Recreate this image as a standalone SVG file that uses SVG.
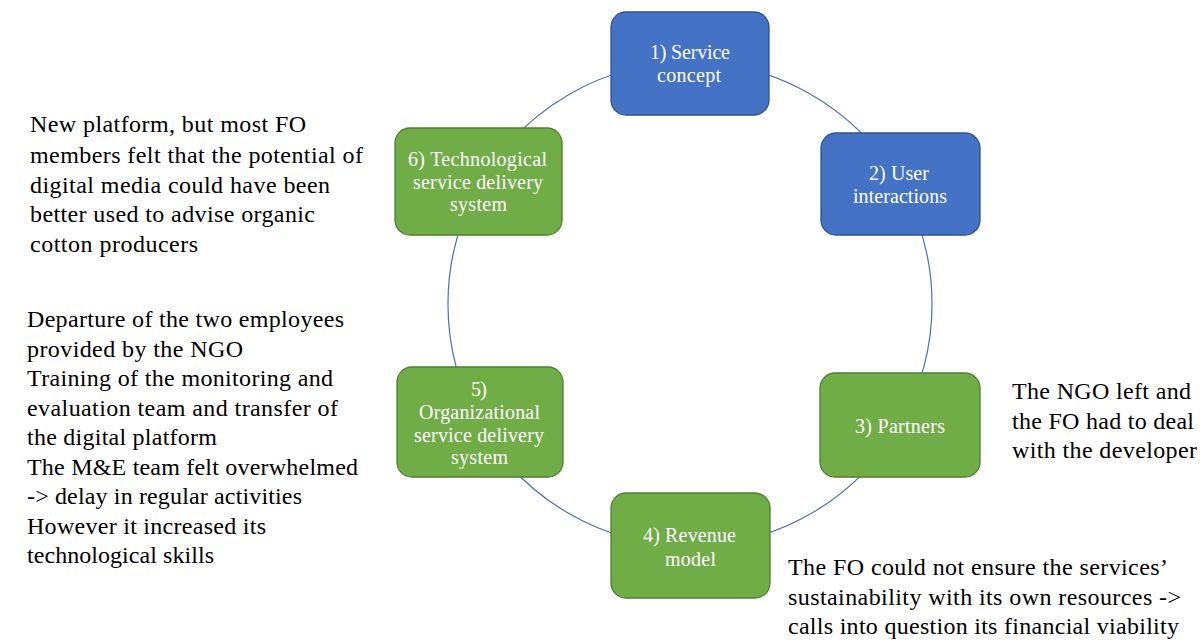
<svg xmlns="http://www.w3.org/2000/svg" width="1203" height="642" viewBox="0 0 1203 642" font-family="Liberation Serif, DejaVu Serif, serif">
<style>
.conn{fill:none;stroke:#4472C4;stroke-width:1.2}
.blue{fill:#4472C4;stroke:#2F528F;stroke-width:1.3}
.green{fill:#70AD47;stroke:#507E32;stroke-width:1.3}
.nt{font-size:20px;fill:#ffffff;text-anchor:middle}
.st{font-size:24px;fill:#000000}
</style>
<rect width="1203" height="642" fill="#ffffff"/>
<g id="connectors">
<path class="conn" d="M690 62 A242 242 0 0 1 899.6 183"/>
<path class="conn" d="M899.6 183 A242 242 0 0 1 899.6 425"/>
<path class="conn" d="M899.6 425 A242 242 0 0 1 690 546"/>
<path class="conn" d="M690 546 A242 242 0 0 1 480.4 425"/>
<path class="conn" d="M480.4 425 A242 242 0 0 1 480.4 183"/>
<path class="conn" d="M480.4 183 A242 242 0 0 1 690 62"/>
</g>
<g id="node1" font-family="Liberation Serif">
<rect class="blue" x="611" y="12" width="158" height="103" rx="15"/>
<text class="nt" x="690" y="59" textLength="80" lengthAdjust="spacing">1) Service</text>
<text class="nt" x="689" y="82" textLength="64" lengthAdjust="spacing">concept</text>
</g>
<g id="node2" font-family="Liberation Serif">
<rect class="blue" x="821" y="133" width="159" height="102" rx="15"/>
<text class="nt" x="899" y="180" textLength="60" lengthAdjust="spacing">2) User</text>
<text class="nt" x="900" y="203" textLength="94" lengthAdjust="spacing">interactions</text>
</g>
<g id="node3" font-family="Liberation Serif">
<rect class="green" x="820" y="373" width="160" height="104" rx="15"/>
<text class="nt" x="900" y="433" textLength="90" lengthAdjust="spacing">3) Partners</text>
</g>
<g id="node4" font-family="Liberation Serif">
<rect class="green" x="611" y="493" width="159" height="105" rx="15"/>
<text class="nt" x="689.5" y="542" textLength="93" lengthAdjust="spacing">4) Revenue</text>
<text class="nt" x="690.5" y="566" textLength="51" lengthAdjust="spacing">model</text>
</g>
<g id="node5" font-family="Liberation Serif">
<rect class="green" x="397" y="367" width="166" height="110" rx="15"/>
<text class="nt" x="479" y="396" textLength="16" lengthAdjust="spacing">5)</text>
<text class="nt" x="479.5" y="419" textLength="121" lengthAdjust="spacing">Organizational</text>
<text class="nt" x="479" y="441.5" textLength="130" lengthAdjust="spacing">service delivery</text>
<text class="nt" x="479.5" y="464" textLength="57" lengthAdjust="spacing">system</text>
</g>
<g id="node6" font-family="Liberation Serif">
<rect class="green" x="395" y="128" width="167" height="107" rx="15"/>
<text class="nt" x="477.5" y="166" textLength="139" lengthAdjust="spacing">6) Technological</text>
<text class="nt" x="478" y="188.5" textLength="130" lengthAdjust="spacing">service delivery</text>
<text class="nt" x="478.5" y="211" textLength="57" lengthAdjust="spacing">system</text>
</g>
<g id="note-tech" font-family="Liberation Serif">
<text class="st" x="30" y="132" textLength="276" lengthAdjust="spacing">New platform, but most FO</text>
<text class="st" x="30" y="162.5" textLength="333" lengthAdjust="spacing">members felt that the potential of</text>
<text class="st" x="30" y="192.5" textLength="300" lengthAdjust="spacing">digital media could have been</text>
<text class="st" x="30" y="221.5" textLength="285" lengthAdjust="spacing">better used to advise organic</text>
<text class="st" x="30" y="251.5" textLength="168" lengthAdjust="spacing">cotton producers</text>
</g>
<g id="note-org" font-family="Liberation Serif">
<text class="st" x="27" y="327" textLength="317" lengthAdjust="spacing">Departure of the two employees</text>
<text class="st" x="27" y="356.5" textLength="216" lengthAdjust="spacing">provided by the NGO</text>
<text class="st" x="27" y="386" textLength="306" lengthAdjust="spacing">Training of the monitoring and</text>
<text class="st" x="27" y="415.5" textLength="311" lengthAdjust="spacing">evaluation team and transfer of</text>
<text class="st" x="27" y="445" textLength="190" lengthAdjust="spacing">the digital platform</text>
<text class="st" x="27" y="474.5" textLength="331" lengthAdjust="spacing">The M&amp;E team felt overwhelmed</text>
<text class="st" x="27" y="504" textLength="275" lengthAdjust="spacing">-&gt; delay in regular activities</text>
<text class="st" x="27" y="533.5" textLength="239" lengthAdjust="spacing">However it increased its</text>
<text class="st" x="27" y="563" textLength="187" lengthAdjust="spacing">technological skills</text>
</g>
<g id="note-partners" font-family="Liberation Serif">
<text class="st" x="1012" y="399" textLength="179" lengthAdjust="spacing">The NGO left and</text>
<text class="st" x="1012" y="429" textLength="182" lengthAdjust="spacing">the FO had to deal</text>
<text class="st" x="1012" y="458" textLength="185" lengthAdjust="spacing">with the developer</text>
</g>
<g id="note-revenue" font-family="Liberation Serif">
<text class="st" x="788" y="575" textLength="380" lengthAdjust="spacing">The FO could not ensure the services’</text>
<text class="st" x="788" y="604.5" textLength="393" lengthAdjust="spacing">sustainability with its own resources -&gt;</text>
<text class="st" x="788" y="634" textLength="391" lengthAdjust="spacing">calls into question its financial viability</text>
</g>
</svg>
